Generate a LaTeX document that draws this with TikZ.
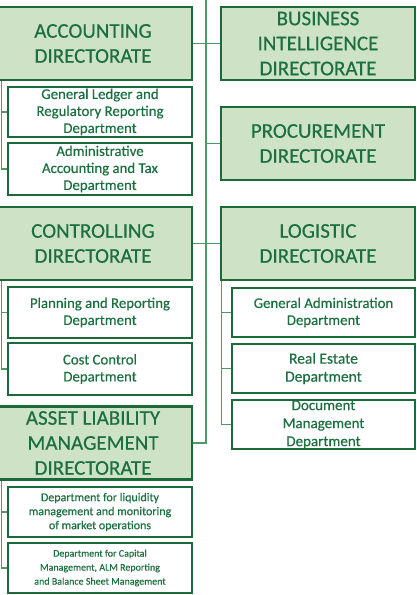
\documentclass[tikz,border=0pt]{standalone}
\usepackage{fontspec}
\setmainfont{Carlito}[FakeBold=0.4]
\definecolor{dg}{HTML}{1A6A3A}
\definecolor{tg}{HTML}{1C7040}
\definecolor{lg}{HTML}{CEE3C6}
\definecolor{cg}{HTML}{4E9A67}
\begin{document}
\begin{tikzpicture}[x=1pt,y=-1pt,
 dirbox/.style={draw=dg, line width=2.4pt, fill=lg, text=tg, align=center, inner sep=0pt, font=\fontsize{21}{25}\selectfont, minimum height=73pt},
 ldir/.style={dirbox, minimum width=198pt},
 rdir/.style={dirbox, minimum width=194pt},
 depbox/.style={draw=dg, line width=2.4pt, fill=white, text=tg, align=center, inner sep=0pt, font=\fontsize{14.8}{17}\selectfont},
 ldep/.style={depbox, minimum width=184pt},
 rdep/.style={depbox, minimum width=183pt},
 conn/.style={draw=cg, line width=1.2pt}]
\useasboundingbox (0,0) rectangle (417,595);
% connectors first, beneath boxes
\coordinate (ttop) at (206,0);
\coordinate (tbot) at (206,443);
% left column
\node[ldir] (acc) at (93,43.5) {ACCOUNTING\\DIRECTORATE};
\node[ldep, minimum height=50pt] (gl) at (100,112) {General Ledger and\\Regulatory Reporting\\Department};
\node[ldep, minimum height=52pt] (adm) at (100,169) {Administrative\\Accounting and Tax\\Department};
\node[ldir] (ctl) at (93,243.5) {CONTROLLING\\DIRECTORATE};
\node[ldep, minimum height=51pt] (pln) at (100,312.5) {Planning and Reporting\\Department};
\node[ldep, minimum height=52pt] (cst) at (100,369) {Cost Control\\Department};
\node[ldir] (alm) at (93,443) {ASSET LIABILITY\\MANAGEMENT\\DIRECTORATE};
\node[ldep, minimum height=50pt, font=\fontsize{12}{14}\selectfont] (liq) at (100,512) {Department for liquidity\\management and monitoring\\of market operations};
\node[ldep, minimum height=50pt, font=\fontsize{10}{14}\selectfont] (cap) at (100,568) {Department for Capital\\Management, ALM Reporting\\and Balance Sheet Management};
% right column
\node[rdir] (bi) at (318,43.5) {BUSINESS\\INTELLIGENCE\\DIRECTORATE};
\node[rdir] (prc) at (318,143.5) {PROCUREMENT\\DIRECTORATE};
\node[rdir] (log) at (318,243.5) {LOGISTIC\\DIRECTORATE};
\node[rdep, minimum height=49pt] (ga) at (323.5,312.5) {General Administration\\Department};
\node[rdep, minimum height=49pt, font=\fontsize{15.5}{18}\selectfont] (re) at (323.5,368.5) {Real Estate\\Department};
\node[rdep, minimum height=49pt, font=\fontsize{15}{18}\selectfont] (dm) at (323.5,424.5) {Document\\Management\\Department};
% trunk
\draw[conn] (ttop) -- (tbot) -- (alm.east);
\draw[conn] (acc.east) -- (acc.east -| ttop);
\draw[conn] (ctl.east) -- (ctl.east -| ttop);
\draw[conn] (bi.west) -- (bi.west -| ttop);
\draw[conn] (prc.west) -- (prc.west -| ttop);
\draw[conn] (log.west) -- (log.west -| ttop);
% brackets
\draw[conn] ([xshift=-5pt]gl.west |- acc.south) |- (adm.west);
\draw[conn] ([xshift=-5pt]gl.west) -- (gl.west);
\draw[conn] ([xshift=-5pt]pln.west |- ctl.south) |- (cst.west);
\draw[conn] ([xshift=-5pt]pln.west) -- (pln.west);
\draw[conn] ([xshift=-5pt]liq.west |- alm.south) |- (cap.west);
\draw[conn] ([xshift=-5pt]liq.west) -- (liq.west);
\draw[conn] ([xshift=-9pt]ga.west |- log.south) |- (dm.west);
\draw[conn] ([xshift=-9pt]ga.west) -- (ga.west);
\draw[conn] ([xshift=-9pt]re.west) -- (re.west);
\end{tikzpicture}
\end{document}
